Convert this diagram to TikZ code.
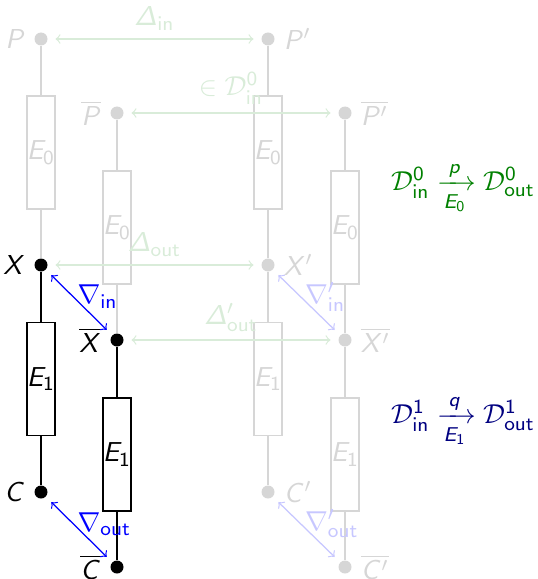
\documentclass[tikz,border=0pt]{standalone}
\usepackage{amsmath}
\SetSymbolFont{operators}{normal}{OT1}{cmss}{m}{n}
\SetSymbolFont{letters}{normal}{OT1}{cmss}{m}{sl}
\SetMathAlphabet{\mathrm}{normal}{OT1}{cmss}{m}{n}
\SetMathAlphabet{\mathit}{normal}{OT1}{cmss}{m}{sl}
\DeclareMathSizes{11}{11}{8.5}{6.5}
\newcommand\sDelta{\mathit{\Delta}}
\newcommand\sub[1]{\mathrm{#1}}
\colorlet{fadegray}{black!16}
\colorlet{fadegreen}{green!50!black!15}
\colorlet{fadeblue}{blue!22}
\colorlet{dkgreen}{green!50!black}
\colorlet{dkblue}{blue!50!black}
\tikzset{
  every node/.style={font=\fontsize{11}{13}\selectfont},
  dotb/.style={circle,fill=black,inner sep=0pt,minimum size=5.2pt},
  dotg/.style={circle,fill=fadegray,inner sep=0pt,minimum size=5.2pt},
  boxb/.style={draw=black,line width=0.6pt,minimum width=10.8pt,minimum height=45.2pt,inner sep=0pt},
  boxg/.style={draw=fadegray,text=fadegray,line width=0.6pt,minimum width=10.8pt,minimum height=45.2pt,inner sep=0pt},
  wireb/.style={draw=black,line width=0.6pt},
  wireg/.style={draw=fadegray,line width=0.6pt},
  garrow/.style={draw=fadegreen,line width=0.5pt,<->,shorten <=3pt,shorten >=3pt},
  barrow/.style={draw=blue,line width=0.5pt,<->,shorten <=3pt,shorten >=3pt},
  fbarrow/.style={draw=fadeblue,line width=0.5pt,<->,shorten <=3pt,shorten >=3pt},
  nlab/.style={midway,anchor=west,inner sep=0pt,xshift=-0.8pt,yshift=2.3pt},
}
\begin{document}
\begin{tikzpicture}[x=0.4pt,y=-0.4pt]
\useasboundingbox (0,0) rectangle (538,579);
% dots
\node[dotg,label={[text=fadegray]left:$P$}] (P) at (41,39) {};
\node[dotg,label={[text=fadegray]right:$P'$}] (Pp) at (268,39) {};
\node[dotg,label={[text=fadegray]left:$\overline{P}$}] (Pb) at (117,113) {};
\node[dotg,label={[text=fadegray]right:$\overline{P'}$}] (Pbp) at (345,113) {};
\node[dotb,label={left:$X$}] (X) at (41,265) {};
\node[dotg,label={[text=fadegray]right:$X'$}] (Xp) at (268,265) {};
\node[dotb,label={left:$\overline{X}$}] (Xb) at (117,340) {};
\node[dotg,label={[text=fadegray]right:$\overline{X'}$}] (Xbp) at (345,340) {};
\node[dotb,label={left:$C$}] (C) at (41,492) {};
\node[dotg,label={[text=fadegray]right:$C'$}] (Cp) at (268,492) {};
\node[dotb,label={left:$\overline{C}$}] (Cb) at (117,567) {};
\node[dotg,label={[text=fadegray]right:$\overline{C'}$}] (Cbp) at (345,567) {};
% boxes
\node[boxg] (E0a) at (41,152.5) {$E_0$};
\node[boxg] (E0b) at (268,152.5) {$E_0$};
\node[boxg] (E0c) at (117,227.5) {$E_0$};
\node[boxg] (E0d) at (345,227.5) {$E_0$};
\node[boxb] (E1a) at (41,379) {$E_1$};
\node[boxg] (E1b) at (268,379) {$E_1$};
\node[boxb] (E1c) at (117,454.5) {$E_1$};
\node[boxg] (E1d) at (345,454.5) {$E_1$};
% wires
\draw[wireg] (P) -- (E0a);
\draw[wireg] (E0a) -- (X);
\draw[wireb] (X) -- (E1a);
\draw[wireb] (E1a) -- (C);
\draw[wireg] (Pb) -- (E0c);
\draw[wireg] (E0c) -- (Xb);
\draw[wireb] (Xb) -- (E1c);
\draw[wireb] (E1c) -- (Cb);
\draw[wireg] (Pp) -- (E0b);
\draw[wireg] (E0b) -- (Xp);
\draw[wireg] (Xp) -- (E1b);
\draw[wireg] (E1b) -- (Cp);
\draw[wireg] (Pbp) -- (E0d);
\draw[wireg] (E0d) -- (Xbp);
\draw[wireg] (Xbp) -- (E1d);
\draw[wireg] (E1d) -- (Cbp);
% delta arrows
\draw[garrow] (P) -- node[above,text=fadegreen]{$\sDelta_{\sub{in}}$} (Pp);
\draw[garrow] (Pb) -- node[above,text=fadegreen]{$\in\mathcal{D}^0_{\sub{in}}$} (Pbp);
\draw[garrow] (X) -- node[above,text=fadegreen]{$\sDelta_{\sub{out}}$} (Xp);
\draw[garrow] (Xb) -- node[above,text=fadegreen]{$\sDelta'_{\sub{out}}$} (Xbp);
% nabla arrows
\draw[barrow] (X) -- node[nlab,text=blue]{$\nabla_{\sub{in}}$} (Xb);
\draw[barrow] (C) -- node[nlab,text=blue]{$\nabla_{\sub{out}}$} (Cb);
\draw[fbarrow] (Xp) -- node[nlab,text=fadeblue]{$\nabla'_{\sub{in}}$} (Xbp);
\draw[fbarrow] (Cp) -- node[nlab,text=fadeblue]{$\nabla'_{\sub{out}}$} (Cbp);
% formulas
\node[text=dkgreen] (F0) at (463,188) {$\mathcal{D}^0_{\sub{in}}\xrightarrow[E_0]{p}\mathcal{D}^0_{\sub{out}}$};
\node[text=dkblue] (F1) at (463,421) {$\mathcal{D}^1_{\sub{in}}\xrightarrow[E_1]{q}\mathcal{D}^1_{\sub{out}}$};
\end{tikzpicture}
\end{document}
